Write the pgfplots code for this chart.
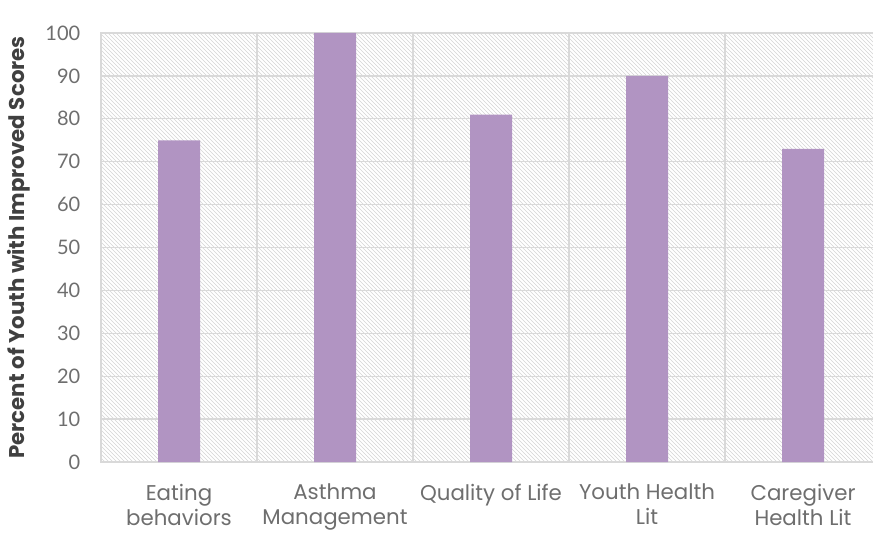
\documentclass[border=0pt]{standalone}
\usepackage{pgfplots}
\pgfplotsset{compat=1.18}
\usetikzlibrary{patterns}
\usepackage{fontspec}
\setmainfont{Lato}
\newfontfamily\catfont{Poppins}

\definecolor{barpurple}{HTML}{B194C2}
\definecolor{gridgray}{HTML}{D9D9D9}
\definecolor{ticktext}{HTML}{6E6E6E}
\definecolor{labeltext}{HTML}{404040}

\begin{document}
\begin{tikzpicture}
% canvas: 654.75pt x 399.75pt; the plot area runs past the right edge
\path[use as bounding box] (0pt,0pt) rectangle (654.75pt,399.75pt);
\clip (0pt,0pt) rectangle (654.75pt,399.75pt);
\begin{axis}[
  at={(75.75pt,53.25pt)}, anchor=south west,
  scale only axis,
  width=585pt, height=321.75pt,
  ymin=0, ymax=100,
  xmin=-0.5, xmax=4.5,
  ytick={0,10,...,100},
  xtick={0,1,2,3,4},
  xticklabels={{Eating\\behaviors},{Asthma\\Management},{Quality of Life},{Youth Health\\Lit},{Caregiver\\Health Lit}},
  minor xtick={0.5,1.5,2.5,3.5},
  xminorgrids, ymajorgrids,
  major tick length=0pt, minor tick length=0pt,
  grid style={gridgray, line width=1pt},
  minor grid style={gridgray, line width=1pt},
  axis line style={gridgray, line width=1pt},
  axis background/.style={pattern=north west lines, pattern color=black!17},
  ticklabel style={text=ticktext},
  yticklabel style={font=\fontsize{15}{18}\selectfont, xshift=-12pt},
  xticklabel style={font=\catfont\fontsize{16}{18.75}\selectfont, align=center, yshift=-13pt},
  /pgf/number format/assume math mode=true,
  ylabel={Percent of Youth with Improved Scores},
  every axis y label/.style={at={(axis description cs:-0.106,0.5)}, rotate=90, anchor=center,
    font=\catfont\fontsize{16}{18}\selectfont\bfseries, text=labeltext},
  ybar, bar width=31.5pt,
]
\addplot[fill=barpurple, draw=none] coordinates {(0,75) (1,100) (2,81) (3,90) (4,73)};
\end{axis}
\end{tikzpicture}
\end{document}
